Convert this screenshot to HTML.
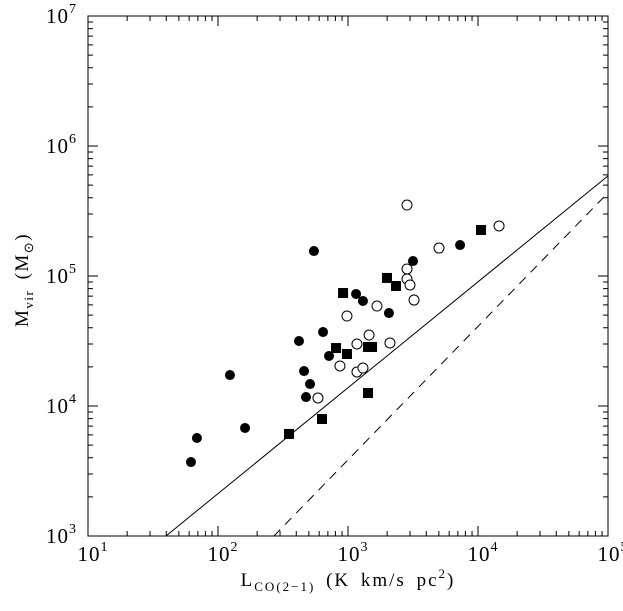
<!DOCTYPE html>
<html><head><meta charset="utf-8"><style>
html,body{margin:0;padding:0;background:#fff;}
svg{display:block;font-family:"Liberation Serif",serif;}
</style></head><body>
<svg id="chart" width="623" height="611" viewBox="0 0 623 611" xmlns="http://www.w3.org/2000/svg">
<rect x="0" y="0" width="623" height="611" fill="#fff"/>
<g id="marks"></g>
<g id="axes"></g>
<text x="348" y="586" font-size="19" text-anchor="middle" letter-spacing="2" word-spacing="4">L<tspan font-size="13" dy="5">CO(2−1)</tspan><tspan dy="-5"> (K km/s pc</tspan><tspan font-size="13" dy="-8">2</tspan><tspan dy="8">)</tspan></text>
<text transform="translate(28,280) rotate(-90)" font-size="19" text-anchor="middle" letter-spacing="1.5" word-spacing="4">M<tspan font-size="13" dy="5">vir</tspan><tspan dy="-5"> (M</tspan><tspan font-size="13" dy="5">⊙</tspan><tspan dy="-5">)</tspan></text>
</svg>
<script>
// data (log10 values)
const filledX=[1.792,1.838,2.092,2.208,2.738,2.623,2.808,2.854,2.662,2.708,2.677,3.062,3.115,3.315,3.500,3.862];
const filledY=[3.569,3.754,4.238,3.831,5.192,4.500,4.569,4.385,4.269,4.169,4.069,4.862,4.808,4.715,5.115,5.238];
const squareX=[2.962,3.300,3.369,2.908,2.992,3.154,3.185,3.154,2.800,2.546,4.023];
const squareY=[4.869,4.985,4.923,4.446,4.400,4.454,4.454,4.100,3.900,3.785,5.354];
const openX=[2.992,3.223,3.162,3.069,3.323,2.938,3.069,3.115,2.769,3.454,4.162,3.700,3.454,3.454,3.477,3.508];
const openY=[4.692,4.769,4.546,4.477,4.485,4.308,4.262,4.292,4.062,5.546,5.385,5.215,5.054,4.977,4.931,4.815];
const solidLineX=[1.6,5];
const solidLineY=[3.0,5.77];
const dashedLineX=[2.43,5];
const dashedLineY=[3.0,5.64];
const xTicks=[1,2,3,4,5];
const yTicks=[3,4,5,6,7];

const L=88,R=608,T=16,B=536;
const sx=v=>L+(v-1)/4*(R-L);
const sy=v=>B-(v-3)/4*(B-T);
const NS="http://www.w3.org/2000/svg";
const marks=document.getElementById('marks');
const axes=document.getElementById('axes');
function mk(tag,attrs,parent){const e=document.createElementNS(NS,tag);for(const k in attrs)e.setAttribute(k,attrs[k]);parent.appendChild(e);return e;}

let e;
e=mk('line',{x1:sx(solidLineX[0]),y1:sy(solidLineY[0]),x2:sx(solidLineX[1]),y2:sy(solidLineY[1]),stroke:'#000','stroke-width':1},marks);


e=mk('line',{x1:sx(dashedLineX[0]),y1:sy(dashedLineY[0]),x2:sx(dashedLineX[1]),y2:sy(dashedLineY[1]),stroke:'#000','stroke-width':1,'stroke-dasharray':'9,7'},marks);



filledX.forEach((x,i)=>{
 const c=mk('circle',{cx:sx(x),cy:sy(filledY[i]),r:5,fill:'#000'},marks);
 
 
});
squareX.forEach((x,i)=>{
 const c=mk('rect',{x:sx(x)-5,y:sy(squareY[i])-5,width:10,height:10,fill:'#000'},marks);
 
 
});
openX.forEach((x,i)=>{
 const c=mk('circle',{cx:sx(x),cy:sy(openY[i]),r:5,fill:'#fff',stroke:'#000','stroke-width':1},marks);
 
 
});

e=mk('rect',{x:L,y:T,width:R-L,height:B-T,fill:'none',stroke:'#000','stroke-width':1},axes);



let d='';
for(let dec=1;dec<5;dec++){for(let m=1;m<10;m++){const v=dec+Math.log10(m);const x=sx(v);const len=m==1?10:5;d+=`M${x},${B}v${-len}M${x},${T}v${len}`;}}
for(let dec=3;dec<7;dec++){for(let m=1;m<10;m++){const v=dec+Math.log10(m);const y=sy(v);const len=m==1?10:5;d+=`M${L},${y}h${len}M${R},${y}h${-len}`;}}
e=mk('path',{d:d,stroke:'#000','stroke-width':1,fill:'none'},axes);



xTicks.forEach(v=>{
 const t=mk('text',{x:sx(v)+5,y:561,'font-size':21,'text-anchor':'middle','letter-spacing':1},axes);
 t.innerHTML='10<tspan font-size="14" dy="-10">'+v+'</tspan>';
 
 
});
yTicks.forEach(v=>{
 const t=mk('text',{x:77,y:sy(v)+7,'font-size':21,'text-anchor':'end','letter-spacing':1},axes);
 t.innerHTML='10<tspan font-size="14" dy="-10">'+v+'</tspan>';
 
 
});
</script>
</body></html>
